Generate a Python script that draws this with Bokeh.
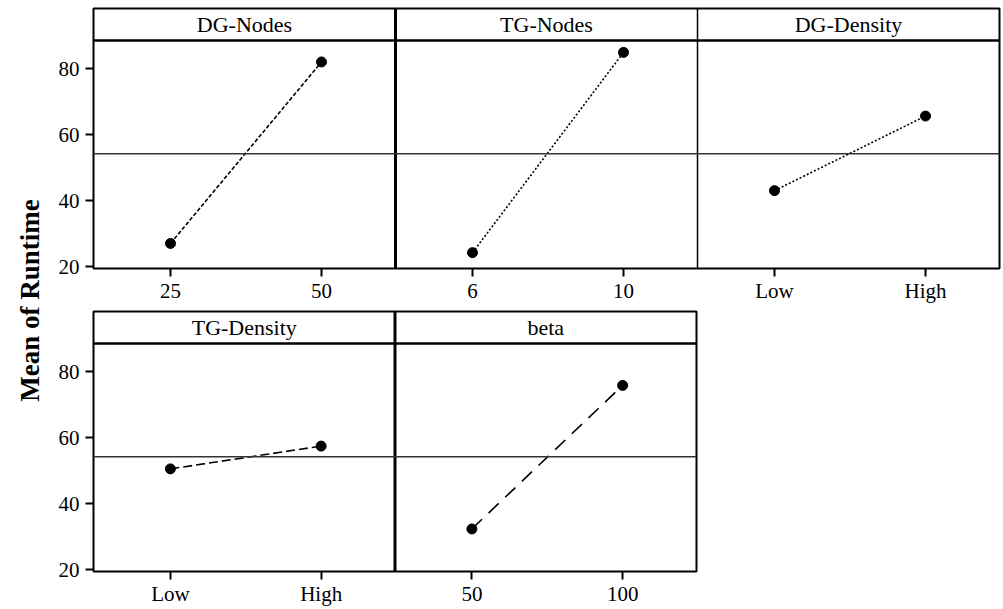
import math
from bokeh.plotting import figure
from bokeh.layouts import row, column
from bokeh.models import FixedTicker, Span, Range1d
from bokeh.core.properties import value
from bokeh.embed import file_html
from bokeh.resources import INLINE

# ---- data ----
factors = ["DG-Nodes", "TG-Nodes", "DG-Density", "TG-Density", "beta"]
levels = [["25", "50"], ["6", "10"], ["Low", "High"], ["Low", "High"], ["50", "100"]]
means = [[27.0, 82.0], [24.2, 84.9], [43.0, 65.6], [50.5, 57.4], [32.3, 75.8]]
grand_mean = 54.2
y_ticks = [20, 40, 60, 80]
dashes = ["4 2", "2 2", "2 2", "9 4", "14 9"]

FONT = "Liberation Serif"
Y_LO, Y_HI, STRIP = 19.4, 98.2, 88.5
LEVEL_POS = [0.255, 0.755]


def make_row(idx_list, frame_w, mb_bottom, mb_top):
    n = len(idx_list)
    p = figure(frame_width=frame_w, frame_height=260, output_backend="svg",
               toolbar_location=None, x_range=Range1d(0, n), y_range=Range1d(Y_LO, Y_HI),
               min_border_left=44, min_border_right=2, min_border_top=mb_top,
               min_border_bottom=mb_bottom)
    p.xgrid.visible = False
    p.ygrid.visible = False
    p.outline_line_color = "black"
    p.outline_line_width = 2
    p.background_fill_color = "white"
    p.border_fill_color = "white"

    ticks, overrides = [], {}
    for k, fi in enumerate(idx_list):
        xs = [k + t for t in LEVEL_POS]
        p.line(xs, means[fi], line_color="black", line_width=1.6, line_dash=dashes[fi])
        p.scatter(xs, means[fi], size=10, color="black")
        p.text([k + 0.5], [(STRIP + Y_HI) / 2], text=[factors[fi]],
               text_font=value(FONT), text_font_size="22px", text_color="black",
               text_align="center", text_baseline="middle")
        for t, lab in zip(xs, levels[fi]):
            ticks.append(t)
            overrides[t] = lab
        if k > 0:
            p.add_layout(Span(location=k, dimension="height", line_color="black",
                              line_width=3 if k == 1 else 1.5))

    p.add_layout(Span(location=STRIP, dimension="width", line_color="black", line_width=2.5))
    p.add_layout(Span(location=grand_mean, dimension="width", line_color="#333333", line_width=1.5))

    xa = p.xaxis[0]
    xa.ticker = FixedTicker(ticks=ticks)
    xa.major_label_overrides = overrides
    xa.axis_line_color = None
    xa.major_tick_out = 8
    xa.major_tick_in = 0
    xa.major_tick_line_width = 2
    xa.minor_tick_line_color = None
    xa.major_label_standoff = 2
    xa.major_label_text_font = FONT
    xa.major_label_text_font_size = "21px"
    xa.major_label_text_color = "black"

    ya = p.yaxis[0]
    ya.ticker = FixedTicker(ticks=y_ticks)
    ya.axis_line_color = None
    ya.major_tick_out = 8
    ya.major_tick_in = 0
    ya.major_tick_line_width = 2
    ya.minor_tick_line_color = None
    ya.major_label_standoff = 6
    ya.major_label_text_font = FONT
    ya.major_label_text_font_size = "21px"
    ya.major_label_text_color = "black"
    return p


top = make_row([0, 1, 2], 906, 41, 8)
bottom = make_row([3, 4], 603, 36, 2)

lab = figure(width=49, height=607, output_backend="svg", toolbar_location=None,
             x_range=Range1d(0, 49), y_range=Range1d(0, 607),
             min_border=0, outline_line_color=None)
lab.axis.visible = False
lab.grid.visible = False
lab.text([29], [307], text=["Mean of Runtime"], angle=math.pi / 2,
         text_font=value(FONT), text_font_size="27px", text_font_style="bold",
         text_color="black", text_align="center", text_baseline="middle")

layout = row(lab, column(top, bottom, spacing=0), spacing=0)
open("out.html", "w").write(file_html(layout, INLINE))
